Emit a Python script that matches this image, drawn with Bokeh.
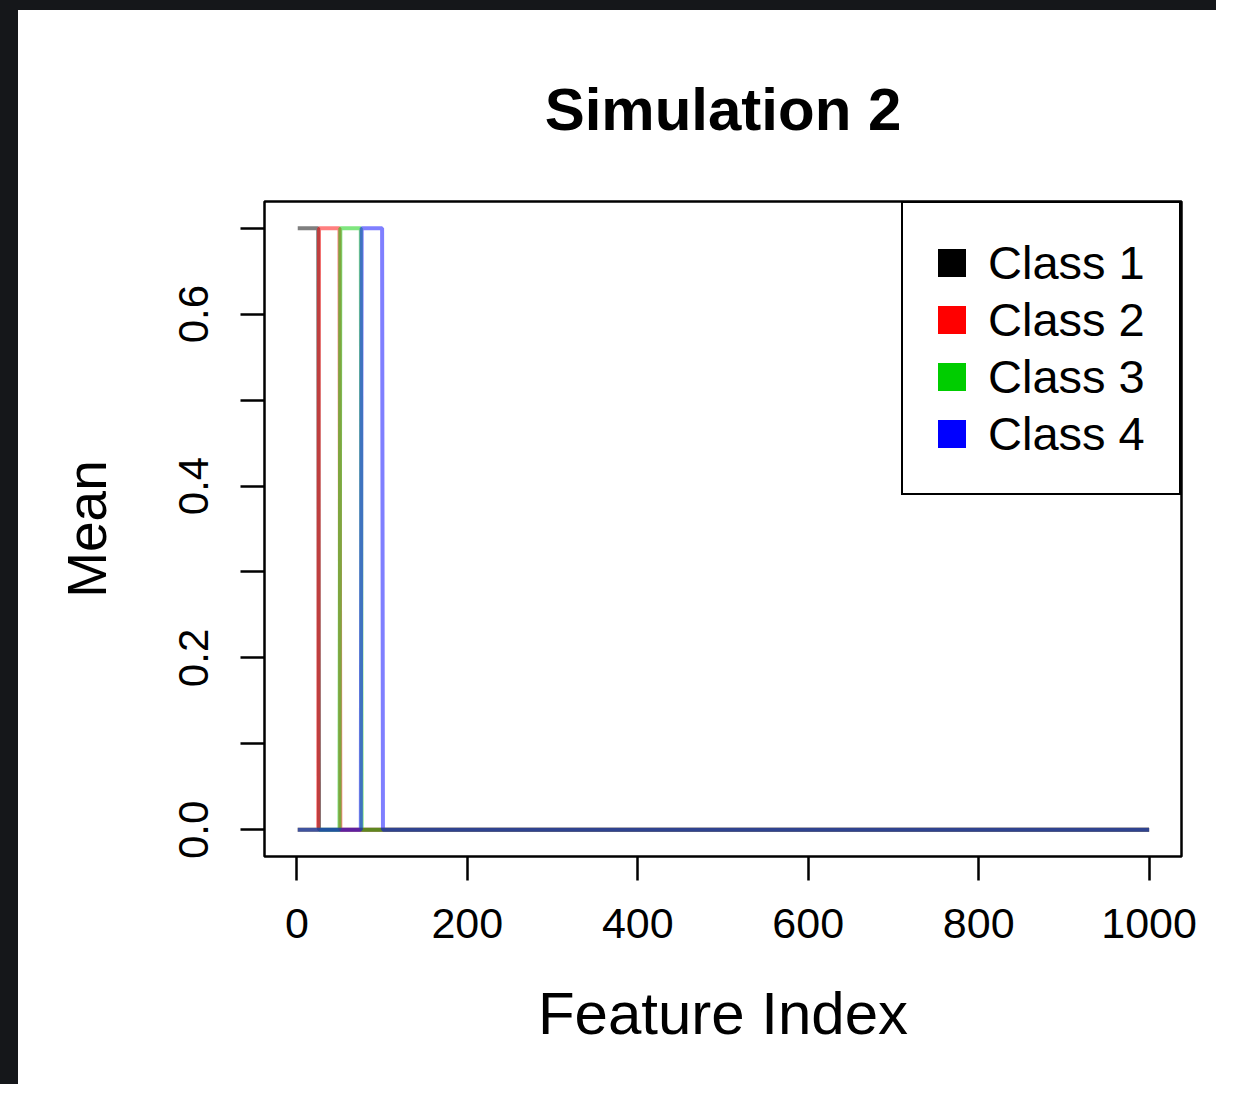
from bokeh.plotting import figure
from bokeh.models import (FixedTicker, PrintfTickFormatter, Legend, LegendItem,
                          Range1d, Title)
from bokeh.embed import file_html
from bokeh.resources import INLINE

# ---- data (step profiles of class means over 1000 features) ----
class_names = ["Class 1", "Class 2", "Class 3", "Class 4"]
class_colors = ["#000000", "#FF0000", "#00CD00", "#0000FF"]

class1_x = [1, 25, 26, 1000]
class1_y = [0.7, 0.7, 0.0, 0.0]
class2_x = [1, 25, 26, 50, 51, 1000]
class2_y = [0.0, 0.0, 0.7, 0.7, 0.0, 0.0]
class3_x = [1, 50, 51, 75, 76, 1000]
class3_y = [0.0, 0.0, 0.7, 0.7, 0.0, 0.0]
class4_x = [1, 75, 76, 100, 101, 1000]
class4_y = [0.0, 0.0, 0.7, 0.7, 0.0, 0.0]

x_ticks = [0, 200, 400, 600, 800, 1000]
y_ticks = [0.0, 0.2, 0.4, 0.6]
y_minor = [0.1, 0.3, 0.5, 0.7]

series_x = [class1_x, class2_x, class3_x, class4_x]
series_y = [class1_y, class2_y, class3_y, class4_y]

FONT = "Liberation Sans"

# dark frame of the original screenshot: 18px on the left, 10px on top
p = figure(width=1216, height=1084, output_backend="svg", toolbar_location=None,
           x_range=Range1d(-38, 1038), y_range=Range1d(-0.031, 0.731),
           min_border_left=246, min_border_right=53,
           min_border_top=191, min_border_bottom=238,
           background_fill_color="white", border_fill_color="white")
p.styles = {"border-left": "18px solid #15171a", "border-top": "10px solid #15171a"}

p.grid.visible = False
p.outline_line_color = "black"
p.outline_line_width = 2.5
p.outline_line_alpha = 1.0

for xs, ys, c in zip(series_x, series_y, class_colors):
    p.line(xs, ys, line_color=c, line_width=4, line_alpha=0.5)

# legend swatches (filled squares); a single NaN point so nothing shows in the plot
nan = float("nan")
swatches = []
for c in class_colors:
    r = p.quad(left=[nan], right=[nan], top=[nan], bottom=[nan],
               fill_color=c, fill_alpha=1.0, line_color=None)
    swatches.append(r)

legend = Legend(items=[LegendItem(label=n, renderers=[r]) for n, r in zip(class_names, swatches)],
                location="top_right", margin=0, padding=31, spacing=0,
                glyph_width=35, glyph_height=35, label_height=57, label_width=160,
                label_standoff=19,
                label_text_font=FONT, label_text_font_size="47px", label_text_color="black",
                border_line_color="black", border_line_width=2.5, border_line_alpha=1.0,
                background_fill_color="white", background_fill_alpha=1.0)
p.add_layout(legend)

# x axis
xa = p.xaxis[0]
xa.ticker = FixedTicker(ticks=x_ticks)
xa.axis_line_color = None
xa.major_tick_out = 24
xa.major_tick_in = 0
xa.major_tick_line_width = 2.5
xa.minor_tick_line_color = None
xa.major_label_text_font = FONT
xa.major_label_text_font_size = "43px"
xa.major_label_text_color = "black"
xa.major_label_standoff = 28
xa.axis_label = "Feature Index"
xa.axis_label_text_font = FONT
xa.axis_label_text_font_size = "60px"
xa.axis_label_text_font_style = "normal"
xa.axis_label_text_color = "black"
xa.axis_label_standoff = 39

# y axis
ya = p.yaxis[0]
ya.ticker = FixedTicker(ticks=y_ticks, minor_ticks=y_minor)
ya.formatter = PrintfTickFormatter(format="%.1f")
ya.axis_line_color = None
ya.major_tick_out = 24
ya.major_tick_in = 0
ya.minor_tick_out = 24
ya.minor_tick_in = 0
ya.major_tick_line_width = 2.5
ya.minor_tick_line_width = 2.5
ya.minor_tick_line_color = "black"
ya.major_label_orientation = "vertical"
ya.major_label_text_font = FONT
ya.major_label_text_font_size = "42px"
ya.major_label_text_color = "black"
ya.major_label_standoff = 32
ya.axis_label = "Mean"
ya.axis_label_text_font = FONT
ya.axis_label_text_font_size = "55px"
ya.axis_label_text_font_style = "normal"
ya.axis_label_text_color = "black"
ya.axis_label_standoff = 59

p.title = Title(text="Simulation 2", align="center", text_font=FONT,
                text_font_size="60px", text_font_style="bold", text_color="black",
                standoff=118)

open("out.html", "w").write(file_html(p, INLINE))
